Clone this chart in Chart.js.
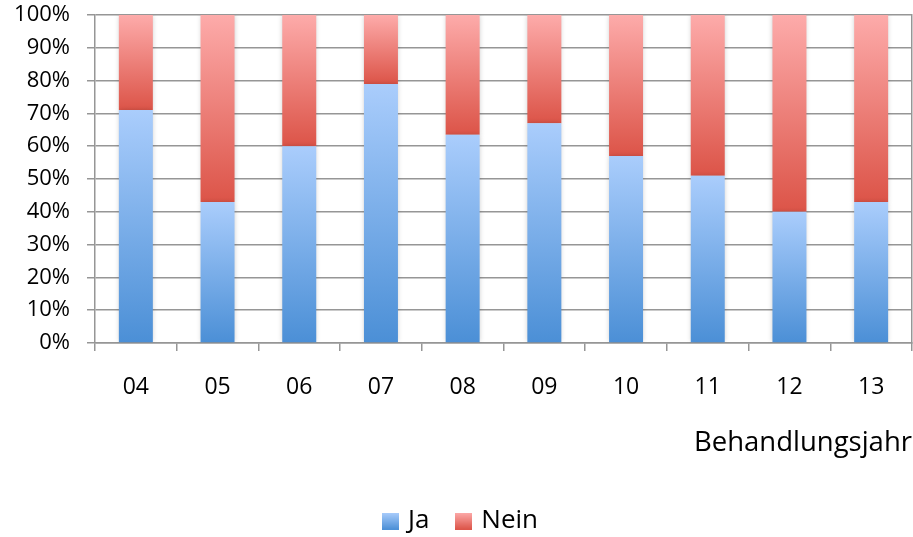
<!DOCTYPE html>
<html>
<head>
<meta charset="utf-8">
<script src="https://cdn.jsdelivr.net/npm/chart.js@4/dist/chart.umd.min.js"></script>
<style>
  html, body { margin: 0; padding: 0; background: #ffffff; }
  #wrap { width: 913px; height: 537px; }
</style>
</head>
<body>
<div id="wrap"><canvas id="chart" width="913" height="537"></canvas></div>
<script>
// Behandlungsjahr (treatment year) categories
const years = ['04', '05', '06', '07', '08', '09', '10', '11', '12', '13'];
// Share answering "Ja" per year, in percent
const jaValues = [71, 43, 60, 79, 63.5, 67, 57, 51, 40, 43];
// Share answering "Nein" per year, in percent (remainder to 100)
const neinValues = [29, 57, 40, 21, 36.5, 33, 43, 49, 60, 57];
// Y-axis tick values
const yTicks = [0, 10, 20, 30, 40, 50, 60, 70, 80, 90, 100];

const FONT = '"Open Sans", Lato, sans-serif';
const GRID = '#969696';

const blueStops = ['#4b8fd6', '#aacdfc'];
const redStops = ['#dc5448', '#fdabaa'];

// Vertical gradient running from the bottom of a stacked segment to its top
function segmentGradient(ctx, stops, datasetIndex) {
  const chart = ctx.chart;
  if (!chart.chartArea || !chart.scales.y) return stops[0];
  const y = chart.scales.y;
  const i = ctx.dataIndex;
  const lo = datasetIndex === 0 ? 0 : jaValues[i];
  const hi = datasetIndex === 0 ? jaValues[i] : jaValues[i] + neinValues[i];
  const y0 = y.getPixelForValue(lo);
  const y1 = y.getPixelForValue(hi);
  if (!isFinite(y0) || !isFinite(y1) || y0 === y1) return stops[0];
  const g = chart.ctx.createLinearGradient(0, y0, 0, y1);
  g.addColorStop(0, stops[0]);
  g.addColorStop(1, stops[1]);
  return g;
}

// Small gradient swatch used as legend marker
function swatch(stops) {
  const c = document.createElement('canvas');
  c.width = 17; c.height = 17;
  const x = c.getContext('2d');
  const g = x.createLinearGradient(0, 17, 0, 0);
  g.addColorStop(0, stops[0]);
  g.addColorStop(1, stops[1]);
  x.fillStyle = g;
  x.fillRect(0, 0, 17, 17);
  return c;
}
const swatches = [swatch(blueStops), swatch(redStops)];

// Soft side shadow behind the bars
const barShadow = {
  id: 'barShadow',
  beforeDatasetsDraw(chart) {
    const c = chart.ctx;
    c.save();
    c.shadowColor = 'rgba(0,0,0,0.22)';
    c.shadowBlur = 5;
    c.shadowOffsetX = 0;
    c.shadowOffsetY = 0;
  },
  afterDatasetsDraw(chart) {
    chart.ctx.restore();
  }
};

new Chart(document.getElementById('chart'), {
  type: 'bar',
  data: {
    labels: years,
    datasets: [
      {
        label: 'Ja',
        data: jaValues,
        backgroundColor: (ctx) => segmentGradient(ctx, blueStops, 0),
        borderWidth: 0,
        pointStyle: swatches[0]
      },
      {
        label: 'Nein',
        data: neinValues,
        backgroundColor: (ctx) => segmentGradient(ctx, redStops, 1),
        borderWidth: 0,
        pointStyle: swatches[1]
      }
    ]
  },
  options: {
    responsive: false,
    animation: false,
    datasets: { bar: { categoryPercentage: 1, barPercentage: 0.416 } },
    layout: { padding: { top: 15, left: 12, right: 1, bottom: -7 } },
    plugins: {
      tooltip: { enabled: false },
      legend: {
        position: 'bottom',
        labels: {
          usePointStyle: true,
          pointStyleWidth: 9,
          font: { family: FONT, size: 26 },
          color: '#000',
          padding: 30
        }
      }
    },
    scales: {
      x: {
        stacked: true,
        offset: true,
        afterFit(scale) { scale.height = 135; },
        grid: {
          offset: true,
          drawOnChartArea: false,
          drawTicks: true,
          tickLength: 8,
          color: GRID,
          lineWidth: 1.5
        },
        border: { display: true, color: GRID, width: 1.5 },
        ticks: {
          font: { family: FONT, size: 23 },
          color: '#000',
          padding: 23
        },
        title: {
          display: true,
          text: 'Behandlungsjahr',
          align: 'end',
          font: { family: FONT, size: 27.5 },
          color: '#000',
          padding: { top: 0, bottom: 18 }
        }
      },
      y: {
        stacked: true,
        min: 0,
        max: 100,
        afterFit(scale) {
          scale.width = 83;
          scale.paddingTop = 0;
          scale.paddingBottom = 0;
        },
        afterBuildTicks(scale) { scale.ticks = yTicks.map(v => ({ value: v })); },
        grid: {
          color: GRID,
          lineWidth: 1.5,
          tickLength: 8,
          drawTicks: true
        },
        border: { display: true, color: GRID, width: 1.5 },
        ticks: {
          font: { family: FONT, size: 22 },
          color: '#000',
          padding: 17,
          callback: (v) => v + '%'
        }
      },
      yRight: {
        position: 'right',
        min: 0,
        max: 100,
        afterFit(scale) { scale.width = 0; },
        grid: { drawOnChartArea: false, drawTicks: false },
        border: { display: true, color: GRID, width: 1.5 },
        ticks: { display: false }
      }
    }
  },
  plugins: [barShadow]
});
</script>
</body>
</html>
